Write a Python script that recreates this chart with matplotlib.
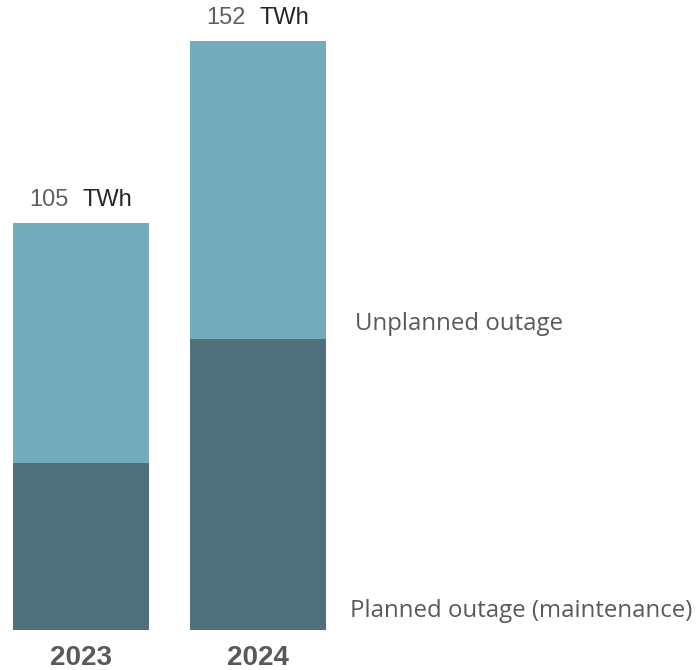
import matplotlib
matplotlib.use("Agg")
import matplotlib.pyplot as plt

years = ["2023", "2024"]
planned = [43, 75]
unplanned = [62, 77]
totals = [105, 152]
unit = "TWh"
series_labels = ["Unplanned outage", "Planned outage (maintenance)"]

c_light = "#73ABBD"
c_dark = "#4F717C"

fig = plt.figure(figsize=(6.96, 6.70), dpi=100)
ax = fig.add_axes([0, 40 / 670, 1, 630 / 670])

x = list(range(len(years)))
ax.bar(x, planned, width=0.77, color=c_dark, linewidth=0)
ax.bar(x, unplanned, bottom=planned, width=0.77, color=c_light, linewidth=0)

ax.set_xlim(-81 / 177, 615 / 177)
ax.set_ylim(0, 630 * 152 / 589)

for xi, t in zip(x, totals):
    ax.annotate(f"{t}", xy=(xi, t), xytext=(-8.6, 16.5), textcoords="offset points",
                ha="right", va="center", fontsize=17, color="#5f5f5f",
                family=["Liberation Sans", "DejaVu Sans"])
    ax.annotate(unit, xy=(xi, t), xytext=(1.0, 16.5), textcoords="offset points",
                ha="left", va="center", fontsize=17, color="#262626",
                family=["Liberation Sans", "DejaVu Sans"])

ax.set_xticks(x)
ax.set_xticklabels(years, fontsize=20, fontweight="bold", color="#595959",
                   family=["Liberation Sans", "DejaVu Sans"])
ax.tick_params(axis="x", length=0, pad=11)
ax.set_yticks([])
for s in ax.spines.values():
    s.set_visible(False)

fig.text(355 / 696, 1 - 324 / 670, series_labels[0], ha="left", va="center",
         fontsize=17.3, color="#595959", family=["Open Sans", "DejaVu Sans"])
fig.text(350 / 696, 1 - 611 / 670, series_labels[1], ha="left", va="center",
         fontsize=17.3, color="#595959", family=["Open Sans", "DejaVu Sans"])

fig.savefig("out.png", dpi=100)
